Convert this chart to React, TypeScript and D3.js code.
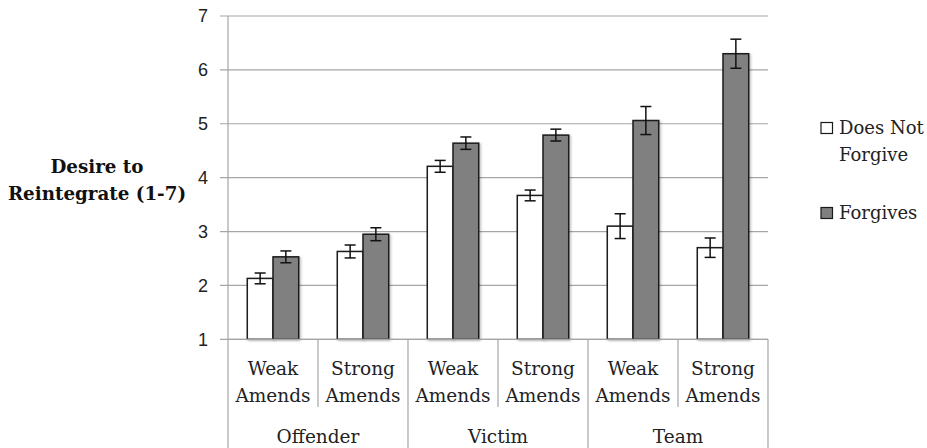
import React from "react";
import * as d3 from "d3";

const groups = ["Offender", "Victim", "Team"];
const amendLevels = ["Weak", "Strong"];
const seriesNames = ["Does Not Forgive", "Forgives"];
const doesNotForgive = [2.13, 2.63, 4.21, 3.67, 3.1, 2.7];
const doesNotForgiveErr = [0.1, 0.12, 0.11, 0.1, 0.23, 0.18];
const forgives = [2.53, 2.95, 4.64, 4.79, 5.06, 6.3];
const forgivesErr = [0.11, 0.12, 0.115, 0.11, 0.26, 0.27];
const yTicks = [1, 2, 3, 4, 5, 6, 7];

const W = 927;
const H = 448;
const left = 228;
const right = 768;
const top = 16;
const bottom = 339.3;

const serif = "'DejaVu Serif', serif";
const sans = "'Liberation Sans', Arial, sans-serif";

export default function App() {
  const cats: string[] = [];
  groups.forEach((g) => amendLevels.forEach((a) => cats.push(g + "|" + a)));

  const x = d3.scaleBand<string>().domain(cats).range([left, right]).paddingInner(0).paddingOuter(0);
  const xi = d3.scaleBand<string>().domain(seriesNames).range([0, x.bandwidth()]).paddingInner(0).paddingOuter(0.75);
  const y = d3.scaleLinear().domain([1, 7]).range([bottom, top]);

  const fills = ["#ffffff", "#808080"];
  const values = [doesNotForgive, forgives];
  const errs = [doesNotForgiveErr, forgivesErr];

  const gx = d3.scaleBand<string>().domain(groups).range([left, right]);

  return (
    <svg width={W} height={H} style={{ position: "absolute", left: 0, top: 0, background: "#fff" }}>
      <defs>
        <filter id="sh" x="-20%" y="-5%" width="150%" height="115%">
          <feDropShadow dx="1.5" dy="1" stdDeviation="1" floodColor="#000" floodOpacity="0.25" />
        </filter>
      </defs>
      {yTicks.map((t) => (
        <line key={t} x1={left - 8} x2={right} y1={y(t)} y2={y(t)} stroke="#a6a6a6" strokeWidth={1.2} />
      ))}
      {yTicks.map((t) => (
        <text key={"l" + t} x={208} y={y(t)} dy="0.36em" textAnchor="end" fontFamily={sans} fontSize={18} fill="#222">
          {t}
        </text>
      ))}
      <line x1={left} x2={left} y1={top} y2={H} stroke="#a6a6a6" strokeWidth={1.2} />
      {cats.map((c, i) =>
        seriesNames.map((s, k) => {
          const bx = (x(c) as number) + (xi(s) as number);
          const v = values[k][i];
          const e = errs[k][i];
          const cx = bx + xi.bandwidth() / 2;
          return (
            <g key={c + s}>
              <rect
                x={bx}
                y={y(v)}
                width={xi.bandwidth()}
                height={bottom - y(v)}
                fill={fills[k]}
                stroke="#1a1a1a"
                strokeWidth={1.5}
                filter="url(#sh)"
              />
              <line x1={cx} x2={cx} y1={y(v + e)} y2={y(v - e)} stroke="#111" strokeWidth={1.5} />
              <line x1={cx - 5.5} x2={cx + 5.5} y1={y(v + e)} y2={y(v + e)} stroke="#111" strokeWidth={1.5} />
              <line x1={cx - 5.5} x2={cx + 5.5} y1={y(v - e)} y2={y(v - e)} stroke="#111" strokeWidth={1.5} />
            </g>
          );
        })
      )}
      <line x1={left} x2={right} y1={bottom} y2={bottom} stroke="#a6a6a6" strokeWidth={1.2} />
      {cats.map((c, i) =>
        i % 2 === 1 ? (
          <line key={"s" + c} x1={x(c) as number} x2={x(c) as number} y1={bottom} y2={407} stroke="#a6a6a6" strokeWidth={1.2} />
        ) : null
      )}
      {groups.map((g) => (
        <line
          key={"g" + g}
          x1={(gx(g) as number) + gx.bandwidth()}
          x2={(gx(g) as number) + gx.bandwidth()}
          y1={bottom}
          y2={H}
          stroke="#a6a6a6"
          strokeWidth={1.2}
        />
      ))}
      {cats.map((c) => {
        const cx = (x(c) as number) + x.bandwidth() / 2;
        const lvl = c.split("|")[1];
        return (
          <g key={"t" + c} fontFamily={serif} fontSize={18.5} fill="#222" textAnchor="middle">
            <text x={cx} y={375}>{lvl}</text>
            <text x={cx} y={401.5}>Amends</text>
          </g>
        );
      })}
      {groups.map((g) => (
        <text
          key={"gl" + g}
          x={(gx(g) as number) + gx.bandwidth() / 2}
          y={443}
          fontFamily={serif}
          fontSize={18.5}
          fill="#222"
          textAnchor="middle"
        >
          {g}
        </text>
      ))}
      <g fontFamily={serif} fontWeight="bold" fontSize={18.3} fill="#111" textAnchor="middle">
        <text x={97} y={172.5}>Desire to</text>
        <text x={97} y={199.5}>Reintegrate (1-7)</text>
      </g>
      <g fontFamily={serif} fontSize={18} fill="#222">
        <rect x={821} y={122.5} width={11.5} height={11} fill={fills[0]} stroke="#1a1a1a" strokeWidth={1.2} />
        <text x={839} y={134}>Does Not</text>
        <text x={839} y={161}>Forgive</text>
        <rect x={821} y={207.5} width={11.5} height={11} fill={fills[1]} stroke="#1a1a1a" strokeWidth={1.2} />
        <text x={839} y={219}>Forgives</text>
      </g>
    </svg>
  );
}
